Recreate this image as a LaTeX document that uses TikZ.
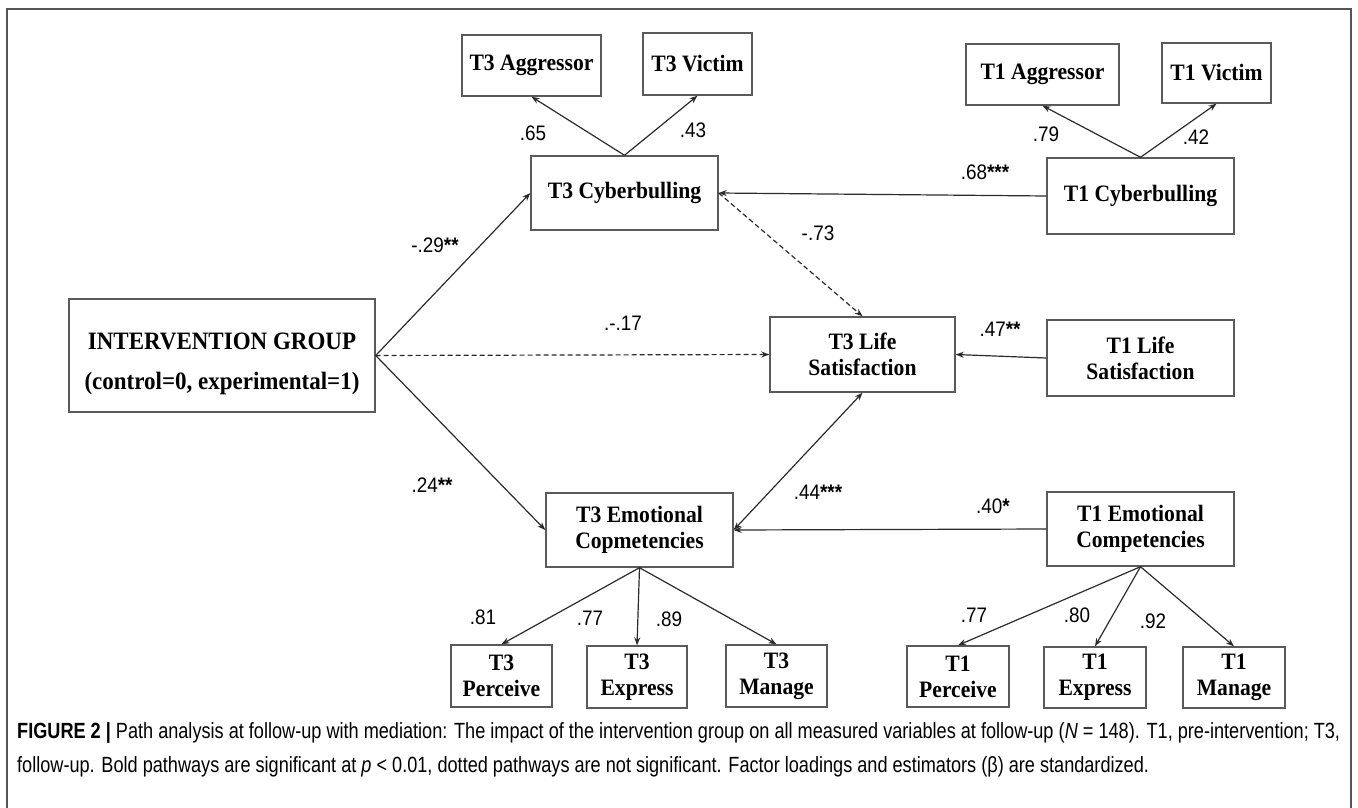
\documentclass[tikz,border=0pt]{standalone}
\usepackage{fontspec}
\usepackage{xcolor}
\usepackage{tikz}
\usetikzlibrary{arrows.meta}
\setmainfont[FakeStretch=0.92]{Liberation Serif}
\newfontfamily\labelfont[FakeStretch=0.9]{Liberation Sans}
\newfontfamily\capfont[FakeStretch=0.824]{Liberation Sans}
\definecolor{boxgray}{HTML}{5A5A5A}
\definecolor{arrgray}{HTML}{2B2B2B}
\definecolor{framegray}{HTML}{555555}
\newcommand{\sig}[1]{\textbf{#1}}

\begin{document}
\begin{tikzpicture}[x=1pt, y=-1pt,
    box/.style={draw=boxgray, line width=1.4pt, rectangle, inner sep=0pt, align=center,
        text=black, font=\fontsize{23.5}{26}\selectfont\bfseries},
    coef/.style={inner sep=0pt, text=black, font=\labelfont\fontsize{21}{24}\selectfont},
    path/.style={draw=arrgray, line width=1.2pt, -{Stealth[length=8pt,width=6pt]}},
    nspath/.style={path, dash pattern=on 5pt off 3pt},
    both/.style={draw=arrgray, line width=1.2pt, {Stealth[length=8pt,width=6pt]}-{Stealth[length=8pt,width=6pt]}}]
    \useasboundingbox (0,0) rectangle (1358,808);
    \draw[framegray, line width=1.4pt] (7,812) -- (7,9) -- (1351,9) -- (1351,812);

    % left column
    \node[box, minimum width=306, minimum height=113, font=\fontsize{25}{28}\selectfont\bfseries]
        at (222, 355.5) (group)
        {\rule{0pt}{33pt}INTERVENTION GROUP\\[12pt](control=0, experimental=1)};

    % T3 variables
    \node[box, minimum width=139, minimum height=61] at (531.5, 65.5) (T3Agg) {T3 Aggressor};
    \node[box, minimum width=109, minimum height=62] at (697.5, 64) (T3Vic) {T3 Victim};
    \node[box, minimum width=187, minimum height=74] at (624.5, 193) (T3Cyb) {T3 Cyberbulling};
    \node[box, minimum width=185, minimum height=75] at (862.5, 354.5) (T3Life) {T3 Life\\Satisfaction};
    \node[box, minimum width=187, minimum height=74] at (639.5, 530) (T3Emo) {T3 Emotional\\Copmetencies};
    \node[box, minimum width=101, minimum height=62] at (501.5, 676) (T3Per) {T3\\Perceive};
    \node[box, minimum width=100, minimum height=62] at (637, 677) (T3Exp) {T3\\Express};
    \node[box, minimum width=101, minimum height=62] at (776.5, 676) (T3Man) {T3\\Manage};

    % T1 variables
    \node[box, minimum width=153, minimum height=61] at (1042.5, 74.5) (T1Agg) {T1 Aggressor};
    \node[box, minimum width=109, minimum height=60] at (1216.5, 73) (T1Vic) {T1 Victim};
    \node[box, minimum width=187, minimum height=76] at (1140.5, 196) (T1Cyb) {T1 Cyberbulling};
    \node[box, minimum width=187, minimum height=76] at (1140.5, 358) (T1Life) {T1 Life\\Satisfaction};
    \node[box, minimum width=187, minimum height=74] at (1140.5, 529) (T1Emo) {T1 Emotional\\Competencies};
    \node[box, minimum width=102, minimum height=61] at (958, 676.5) (T1Per) {T1\\Perceive};
    \node[box, minimum width=102, minimum height=61] at (1095, 677.5) (T1Exp) {T1\\Express};
    \node[box, minimum width=102, minimum height=61] at (1234, 677.5) (T1Man) {T1\\Manage};

    % paths
    \draw[path] (T3Cyb.north) -- (T3Agg.south);
    \draw[path] (T3Cyb.north) -- (T3Vic.south);
    \draw[path] (T1Cyb.north) -- (T1Agg.south);
    \draw[path] (T1Cyb.north) -- (T1Vic.south);
    \draw[path] (group.east) -- (T3Cyb.west);
    \draw[nspath] (group.east) -- (T3Life.west);
    \draw[path] (group.east) -- (T3Emo.west);
    \draw[path] (T1Cyb.west) -- (T3Cyb.east);
    \draw[nspath] (T3Cyb.east) -- (T3Life.north);
    \draw[path] (T1Life.west) -- (T3Life.east);
    \draw[both] (T3Emo.east) -- (T3Life.south);
    \draw[path] (T1Emo.west) -- (T3Emo.east);
    \draw[path] (T3Emo.south) -- (T3Per.north);
    \draw[path] (T3Emo.south) -- (T3Exp.north);
    \draw[path] (T3Emo.south) -- (T3Man.north);
    \draw[path] (T1Emo.south) -- (T1Per.north);
    \draw[path] (T1Emo.south) -- (T1Exp.north);
    \draw[path] (T1Emo.south) -- (T1Man.north);

    % coefficients
    \node[coef] at (533, 133) (c65) {.65};
    \node[coef] at (693, 130) (c43) {.43};
    \node[coef] at (1046, 134) (c79) {.79};
    \node[coef] at (1196, 137) (c42) {.42};
    \node[coef] at (985, 172) (c68) {.68\sig{***}};
    \node[coef] at (435, 245) (c29) {-.29\sig{**}};
    \node[coef] at (818, 233) (c73) {-.73};
    \node[coef] at (623, 323) (c17) {.-.17};
    \node[coef] at (1000, 329) (c47) {.47\sig{**}};
    \node[coef] at (432, 485) (c24) {.24\sig{**}};
    \node[coef] at (818, 492) (c44) {.44\sig{***}};
    \node[coef] at (993, 506) (c40) {.40\sig{*}};
    \node[coef] at (483, 617) (c81) {.81};
    \node[coef] at (590, 618) (c77a) {.77};
    \node[coef] at (669, 619) (c89) {.89};
    \node[coef] at (974, 615) (c77b) {.77};
    \node[coef] at (1077, 615) (c80) {.80};
    \node[coef] at (1153, 621) (c92) {.92};

    % caption
    \node[anchor=north west, inner sep=0pt, align=left, text=black,
        font=\capfont\fontsize{22}{34}\selectfont] at (17, 722) (caption)
        {\textbf{FIGURE 2 |} Path analysis at follow-up with mediation: The impact of the intervention group on all measured variables at follow-up (\textit{N} = 148). T1, pre-intervention; T3,\\
        follow-up. Bold pathways are significant at \textit{p} < 0.01, dotted pathways are not significant. Factor loadings and estimators (β) are standardized.};
\end{tikzpicture}
\end{document}
